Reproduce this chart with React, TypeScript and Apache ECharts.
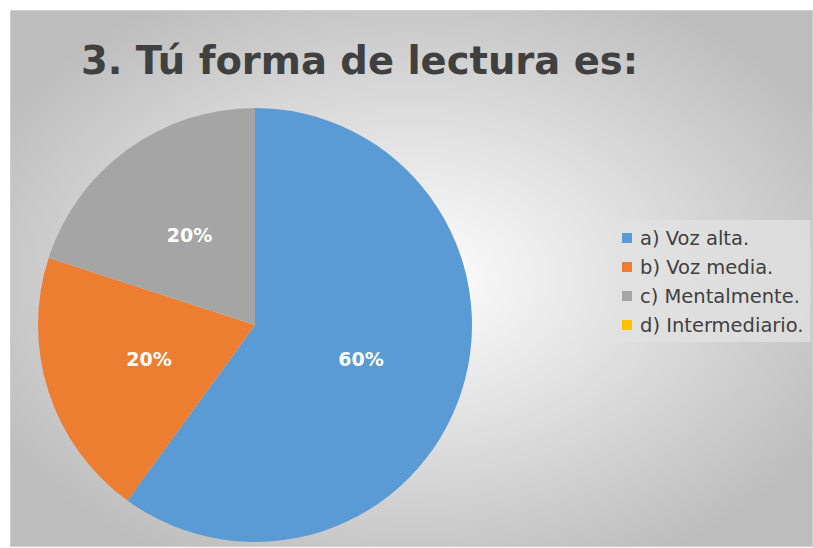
import React, { useEffect, useRef } from "react";
import * as echarts from "echarts";

const titleText = "3. Tú forma de lectura es:";
const categories = ["a) Voz alta.", "b) Voz media.", "c) Mentalmente.", "d) Intermediario."];
const values = [60, 20, 20, 0];
const colors = ["#5B9BD5", "#ED7D31", "#A5A5A5", "#FFC000"];

export default function App() {
  const ref = useRef<HTMLDivElement>(null);
  useEffect(() => {
    if (!ref.current) return;
    const chart = echarts.init(ref.current, undefined, { renderer: "svg" });
    const total = values.reduce((a, b) => a + b, 0);
    chart.setOption({
      animation: false,
      color: colors,
      graphic: [
        {
          type: "rect",
          z: -10,
          silent: true,
          shape: { x: 10.5, y: 10.5, width: 802, height: 536 },
          style: {
            fill: new echarts.graphic.RadialGradient(0.5, 0.5, 0.6, [
              { offset: 0, color: "#ffffff" },
              { offset: 1, color: "#bdbdbd" },
            ]),
            stroke: "#cfcfcf",
            lineWidth: 1,
          },
        },
      ],
      title: {
        text: titleText,
        left: 76,
        top: 36,
        textStyle: {
          fontFamily: "DejaVu Sans",
          fontWeight: "bold",
          fontSize: 38.5,
          color: "#404040",
        },
      },
      legend: {
        orient: "vertical",
        left: 615,
        top: 220,
        width: 197,
        backgroundColor: "rgba(225,225,225,0.75)",
        padding: [8, 7, 7, 7],
        itemWidth: 10,
        itemHeight: 10,
        itemGap: 9,
        icon: "rect",
        textStyle: {
          fontFamily: "DejaVu Sans",
          fontSize: 19.5,
          lineHeight: 20,
          color: "#404040",
          padding: [0, 0, 0, 3],
        },
        data: categories,
      },
      series: [
        {
          type: "pie",
          center: [255, 325],
          radius: 217,
          startAngle: 90,
          clockwise: true,
          avoidLabelOverlap: false,
          label: {
            show: true,
            position: "inside",
            color: "#ffffff",
            fontFamily: "DejaVu Sans",
            fontWeight: "bold",
            fontSize: 19,
            formatter: (p: any) =>
              p.value > 0 ? Math.round((p.value / total) * 100) + "%" : "",
          },
          labelLine: { show: false },
          emphasis: { disabled: true },
          data: categories.map((c, i) => ({ name: c, value: values[i] })),
        },
      ],
    });
    return () => chart.dispose();
  }, []);
  return (
    <div
      ref={ref}
      style={{ position: "absolute", left: 0, top: 0, width: 813, height: 548 }}
    />
  );
}
